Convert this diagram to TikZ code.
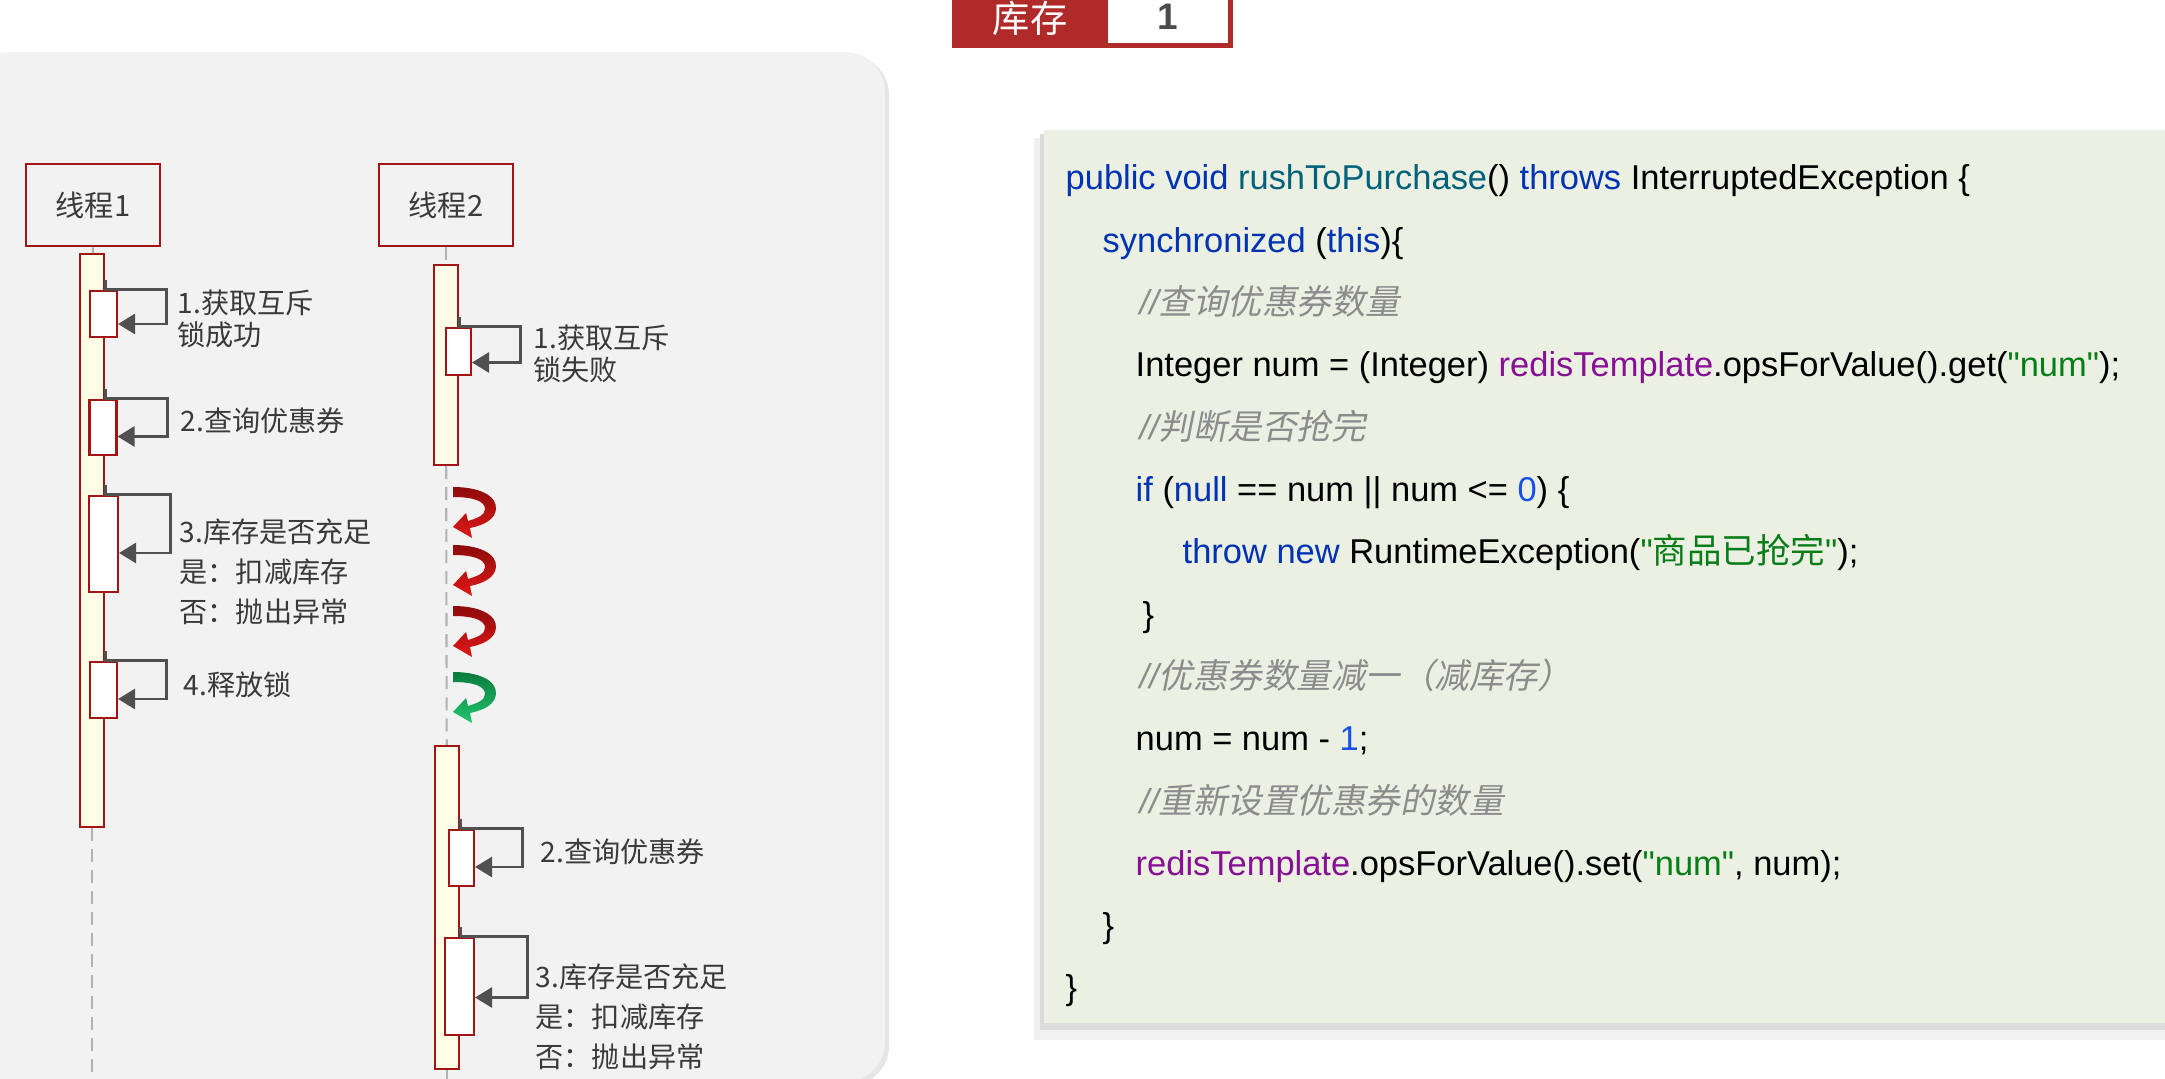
\documentclass[tikz,border=0pt]{standalone}
\usepackage{fontspec}
\setmainfont{Liberation Sans}
\newfontfamily\cjk{Noto Sans CJK SC}
\newfontfamily\cjkit{Noto Sans CJK SC}[FakeSlant=0.2]
\usepackage{tikz}
\usetikzlibrary{calc}
\usetikzlibrary{arrows.meta}
\usetikzlibrary{positioning}
\definecolor{lockred}{HTML}{A31515}
\definecolor{stockred}{HTML}{B02A2A}
\definecolor{panelgray}{HTML}{F2F2F2}
\definecolor{codebg}{HTML}{EBF0E2}
\definecolor{bargold}{HTML}{FFFDE6}
\definecolor{txtgray}{HTML}{3A3A3A}
\definecolor{loopgray}{HTML}{505050}
\definecolor{kwblue}{HTML}{0033B3}
\definecolor{fnteal}{HTML}{00627A}
\definecolor{fieldpurple}{HTML}{871094}
\definecolor{strgreen}{HTML}{067D17}
\definecolor{numblue}{HTML}{1750EB}
\definecolor{cmtgray}{HTML}{8C8C8C}
\definecolor{spinred}{HTML}{8E0B0B}
\definecolor{spinredlight}{HTML}{E01818}
\definecolor{spingreen}{HTML}{0A7A3C}
\definecolor{spingreenlight}{HTML}{22C46E}
\tikzset{thread/.style={rectangle,draw=lockred,line width=0.7pt,minimum width=1.34cm,minimum height=0.82cm,font=\cjk\fontsize{8.3pt}{10pt}\selectfont,text=txtgray}}
\tikzset{actbar/.style={rectangle,draw=lockred,fill=bargold,line width=0.6pt,minimum width=0.24cm,inner sep=0pt}}
\tikzset{callbox/.style={rectangle,draw=lockred,fill=white,line width=0.6pt,minimum width=0.27cm,inner sep=0pt}}
\tikzset{selfcall/.style={draw=loopgray,line width=0.85pt,-{Triangle[length=0.17cm,width=0.2cm]}}}
\tikzset{lifeline/.style={draw=black!30,line width=0.6pt,dash pattern=on 0.13cm off 0.08cm}}
\tikzset{note/.style={anchor=west,align=left,inner sep=0pt,text=txtgray,font=\cjk\fontsize{8pt}{9.1pt}\selectfont}}
\tikzset{note3/.style={note,font=\cjk\fontsize{8pt}{11.4pt}\selectfont}}
\tikzset{codeline/.style={anchor=base west,inner sep=0pt,font=\fontsize{9.8pt}{12pt}\selectfont}}
\tikzset{pics/uturn/.style 2 args={code={
  \shade[top color=#1,bottom color=#2] (0,0) .. controls (25,0) and (44,8) .. (43,22)
    .. controls (42,32) and (32,38) .. (17,41) -- (19,51) -- (0,40) -- (13,26) -- (15,34)
    .. controls (25,31) and (32,28) .. (32,22) .. controls (32,14) and (20,10) .. (0,10) -- cycle;}}}

\begin{document}
\begin{tikzpicture}[x=0.01cm,y=-0.01cm]
\useasboundingbox (0,0) rectangle (2165,1079);

% panels
\fill[black!10, rounded corners=0.4cm] (-30,55) rectangle (889,1086);
\fill[panelgray, rounded corners=0.4cm] (-30,52) rectangle (885,1082);
\fill[black!6] (1034,138) rectangle (2175,1040);
\fill[black!14] (1040,134) rectangle (2175,1030);
\fill[codebg] (1044,130) rectangle (2175,1023);

% stock counter
\node[fill=stockred, minimum width=2.81cm, minimum height=0.58cm, inner sep=0pt] (stock) at (1092.5,19) {};
\node[fill=white, minimum width=1.2cm, minimum height=0.53cm, inner sep=0pt, text=black!70, font=\bfseries\fontsize{10.5pt}{12pt}\selectfont] (stockval) at (1168,16.5) {1};
\node[text=white, font=\cjk\fontsize{10.6pt}{12pt}\selectfont] (stockkey) at (1030,18) {库存};

% threads
\node[thread] (thread1) at (93,205) {线程1};
\node[thread] (thread2) at (446,205) {线程2};

\node[actbar, minimum height=5.73cm] (bar1) at (92,540.5) {};
\node[actbar, minimum height=2.00cm] (bar2) at (446,365) {};
\node[actbar, minimum height=3.23cm] (bar3) at (447,907.5) {};

\coordinate (end1) at (92,1079);
\coordinate (end2) at (447,1079);
\draw[lifeline] (thread1) -- (bar1);
\draw[lifeline] (bar1) -- (end1);
\draw[lifeline] (thread2) -- (bar2);
\draw[lifeline] (bar2) -- (bar3);
\draw[lifeline] (bar3) -- (end2);

\node[callbox, minimum height=0.46cm] (boxa) at (103.5,314) {};
\node[callbox, minimum height=0.55cm] (boxb) at (103,427.5) {};
\node[callbox, minimum height=0.96cm, minimum width=0.29cm] (boxc) at (103.5,544) {};
\node[callbox, minimum height=0.56cm] (boxd) at (103.5,690) {};
\node[callbox, minimum height=0.47cm, minimum width=0.25cm] (boxg) at (458.5,351.5) {};
\node[callbox, minimum height=0.56cm, minimum width=0.25cm] (boxe) at (461.5,858) {};
\node[callbox, minimum height=0.97cm, minimum width=0.29cm] (boxf) at (459.5,986.5) {};

\draw[selfcall] (bar1.east |- boxa.north) ++(0,-10) -- (bar1.east |- boxa.north) -| ($(boxa.east)+(48,10)$) -- ($(boxa.east)+(0,10)$);
\draw[selfcall] (bar1.east |- boxb.north) ++(0,-10) -- (bar1.east |- boxb.north) -| ($(boxb.east)+(50,9)$) -- ($(boxb.east)+(0,9)$);
\draw[selfcall] (bar1.east |- boxc.north) ++(0,-10) -- (bar1.east |- boxc.north) -| ($(boxc.east)+(51,9)$) -- ($(boxc.east)+(0,9)$);
\draw[selfcall] (bar1.east |- boxd.north) ++(0,-10) -- (bar1.east |- boxd.north) -| ($(boxd.east)+(48,9)$) -- ($(boxd.east)+(0,9)$);
\draw[selfcall] (bar2.east |- boxg.north) ++(0,-10) -- (bar2.east |- boxg.north) -| ($(boxg.east)+(48,11)$) -- ($(boxg.east)+(0,11)$);
\draw[selfcall] (bar3.east |- boxe.north) ++(0,-10) -- (bar3.east |- boxe.north) -| ($(boxe.east)+(47,9)$) -- ($(boxe.east)+(0,9)$);
\draw[selfcall] (bar3.east |- boxf.north) ++(0,-10) -- (bar3.east |- boxf.north) -| ($(boxf.east)+(52,11)$) -- ($(boxf.east)+(0,11)$);

\node[note] (notea) at (177,319) {1.获取互斥\\锁成功};
\node[note] (noteb) at (180,421) {2.查询优惠券};
\node[note3] (notec) at (179,572) {3.库存是否充足\\是：扣减库存\\否：抛出异常};
\node[note] (noted) at (183,685) {4.释放锁};
\node[note] (noteg) at (533,354) {1.获取互斥\\锁失败};
\node[note] (notee) at (540,852) {2.查询优惠券};
\node[note3] (notef) at (535,1017) {3.库存是否充足\\是：扣减库存\\否：抛出异常};

% waiting
\pic (spin1) at (453,487) {uturn={spinred}{spinredlight}};
\pic (spin2) at (453,545) {uturn={spinred}{spinredlight}};
\pic (spin3) at (453,606) {uturn={spinred}{spinredlight}};
\pic (spin4) at (453,672) {uturn={spingreen}{spingreenlight}};

% code
\node[codeline] (code1) at (1065,190) {\textcolor{kwblue}{public void} \textcolor{fnteal}{rushToPurchase}() \textcolor{kwblue}{throws} InterruptedException \{};
\node[codeline] (code2) at (1102,252.3) {\textcolor{kwblue}{synchronized} (\textcolor{kwblue}{this})\{};
\node[codeline] (code3) at (1139,314.6) {\textcolor{cmtgray}{\itshape //\cjkit 查询优惠券数量}};
\node[codeline] (code4) at (1135,376.9) {Integer num = (Integer) \textcolor{fieldpurple}{redisTemplate}.opsForValue().get(\textcolor{strgreen}{\textquotedbl num\textquotedbl});};
\node[codeline] (code5) at (1139,439.2) {\textcolor{cmtgray}{\itshape //\cjkit 判断是否抢完}};
\node[codeline] (code6) at (1135,501.5) {\textcolor{kwblue}{if} (\textcolor{kwblue}{null} == num || num <= \textcolor{numblue}{0}) \{};
\node[codeline] (code7) at (1182,563.8) {\textcolor{kwblue}{throw new} RuntimeException(\textcolor{strgreen}{\textquotedbl{\cjk 商品已抢完}\textquotedbl});};
\node[codeline] (code8) at (1142,626.1) {\}};
\node[codeline] (code9) at (1139,688.4) {\textcolor{cmtgray}{\itshape //\cjkit 优惠券数量减一（减库存）}};
\node[codeline] (code10) at (1135,750.7) {num = num - \textcolor{numblue}{1};};
\node[codeline] (code11) at (1139,813) {\textcolor{cmtgray}{\itshape //\cjkit 重新设置优惠券的数量}};
\node[codeline] (code12) at (1135,875.3) {\textcolor{fieldpurple}{redisTemplate}.opsForValue().set(\textcolor{strgreen}{\textquotedbl num\textquotedbl}, num);};
\node[codeline] (code13) at (1102,937.6) {\}};
\node[codeline] (code14) at (1065,999.9) {\}};
\end{tikzpicture}
\end{document}
